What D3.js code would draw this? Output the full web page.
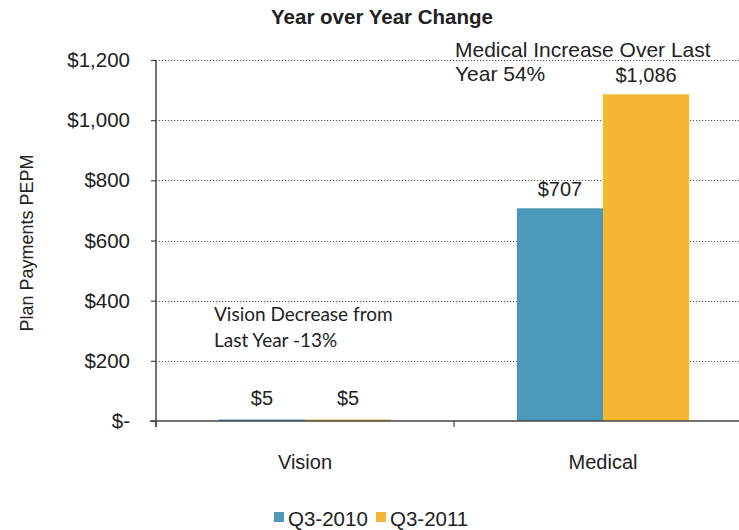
<!DOCTYPE html>
<html>
<head>
<meta charset="utf-8">
<script src="https://cdn.jsdelivr.net/npm/d3@7"></script>
<style>
  html, body { margin: 0; padding: 0; background: #fff; }
  svg { display: block; }
  text { fill: #222; }
</style>
</head>
<body>
<svg id="chart" width="739" height="530" font-family="Liberation Sans, Arial, sans-serif"></svg>
<script>
const categories = ["Vision", "Medical"];
const seriesNames = ["Q3-2010", "Q3-2011"];
const q3_2010 = [5, 707];
const q3_2011 = [5, 1086];
const valueLabels2010 = ["$5", "$707"];
const valueLabels2011 = ["$5", "$1,086"];
const yTicks = [0, 200, 400, 600, 800, 1000, 1200];
const yTickLabels = ["$-", "$200", "$400", "$600", "$800", "$1,000", "$1,200"];
const colors = ["#4b99ba", "#f5b731"];
const chartTitle = "Year over Year Change";
const yTitle = "Plan Payments PEPM";
const noteMedical = ["Medical Increase Over Last", "Year 54%"];
const noteVision = ["Vision Decrease from", "Last Year -13%"];

const svg = d3.select("#chart");
const mLeft = 156, mTop = 60, mBottom = 421, mRight = 752;

const y = d3.scaleLinear().domain([0, 1200]).range([mBottom, mTop]);
const x0 = d3.scaleBand().domain(categories).range([mLeft, mRight]).padding(0);
const x1 = d3.scaleBand().domain(seriesNames).range([0, x0.bandwidth()]).paddingInner(0).paddingOuter(0.73);
const color = d3.scaleOrdinal().domain(seriesNames).range(colors);

// gridlines (dotted)
svg.append("g").selectAll("line").data(yTicks.filter(d => d > 0)).join("line")
  .attr("x1", mLeft).attr("x2", 739)
  .attr("y1", d => Math.round(y(d)) + 0.5).attr("y2", d => Math.round(y(d)) + 0.5)
  .attr("stroke", "#555").attr("stroke-width", 1.2).attr("stroke-dasharray", "1.2,1.8");

// data rows
const rows = categories.map((c, i) => ({
  cat: c,
  vals: [
    { s: seriesNames[0], v: q3_2010[i], lab: valueLabels2010[i] },
    { s: seriesNames[1], v: q3_2011[i], lab: valueLabels2011[i] }
  ]
}));

const groups = svg.append("g").selectAll("g").data(rows).join("g")
  .attr("transform", d => `translate(${x0(d.cat)},0)`);

groups.selectAll("rect").data(d => d.vals).join("rect")
  .attr("x", d => x1(d.s)).attr("width", x1.bandwidth())
  .attr("y", d => y(d.v)).attr("height", d => y(0) - y(d.v))
  .attr("fill", d => color(d.s));

groups.selectAll("text.val").data(d => d.vals).join("text")
  .attr("class", "val")
  .attr("x", d => x1(d.s) + x1.bandwidth() / 2)
  .attr("y", d => d.v < 50 ? 405 : y(d.v) - 12)
  .attr("text-anchor", "middle").attr("font-size", 20)
  .text(d => d.lab);

// y axis
const yAxis = d3.axisLeft(y).tickValues(yTicks).tickFormat((d, i) => yTickLabels[i]).tickSize(5).tickPadding(21);
const gy = svg.append("g").attr("transform", `translate(${mLeft},0)`).call(yAxis);
gy.attr("font-family", null);
gy.select(".domain").attr("stroke", "#444").attr("stroke-width", 1.5).attr("d", `M0,${mTop}V${mBottom + 6}`);
gy.selectAll(".tick line").attr("stroke", "#444").attr("stroke-width", 1.2);
gy.selectAll(".tick text").attr("font-size", 20).attr("fill", "#222");
gy.selectAll(".tick text").style("font-size", "20.5px");

// x axis
const xAxis = d3.axisBottom(x0).tickSize(0).tickPadding(34);
const gx = svg.append("g").attr("transform", `translate(0,${mBottom})`).call(xAxis);
gx.attr("font-family", null);
gx.select(".domain").attr("stroke", "#444").attr("stroke-width", 1.5).attr("d", `M${mLeft - 6},0H739`);
gx.selectAll(".tick text").attr("font-size", 20).attr("fill", "#222");
// category boundary ticks
const boundaries = [x0(categories[0]), x0(categories[1])];
gx.append("g").selectAll("line").data(boundaries).join("line")
  .attr("x1", d => d).attr("x2", d => d).attr("y1", 0).attr("y2", 6)
  .attr("stroke", "#444").attr("stroke-width", 1.2);

// title
svg.append("text").attr("x", 382).attr("y", 24).attr("text-anchor", "middle")
  .attr("font-size", 20.5).attr("font-weight", "bold").text(chartTitle);

// y title
svg.append("text").attr("transform", "translate(33,243) rotate(-90)")
  .attr("text-anchor", "middle").attr("font-size", 18).text(yTitle);

// annotations
svg.append("text").attr("x", 455).attr("y", 57).attr("font-size", 21)
  .selectAll("tspan").data(noteMedical).join("tspan")
  .attr("x", 455).attr("dy", (d, i) => i === 0 ? 0 : 24).text(d => d);

svg.append("text").attr("x", 214).attr("y", 321)
  .style("font-family", "Lato, 'Open Sans', sans-serif").style("font-size", "19px")
  .selectAll("tspan").data(noteVision).join("tspan")
  .attr("x", 214).attr("dy", (d, i) => i === 0 ? 0 : 26).text(d => d);

// legend
const legend = svg.append("g").attr("transform", "translate(274,0)");
const legItems = legend.selectAll("g").data(seriesNames).join("g")
  .attr("transform", (d, i) => `translate(${i * 102},0)`);
legItems.append("rect").attr("x", 0).attr("y", 512).attr("width", 10).attr("height", 10)
  .attr("fill", d => color(d));
legItems.append("text").attr("x", 14).attr("y", 526).attr("font-size", 20.5).text(d => d);
</script>
</body>
</html>
